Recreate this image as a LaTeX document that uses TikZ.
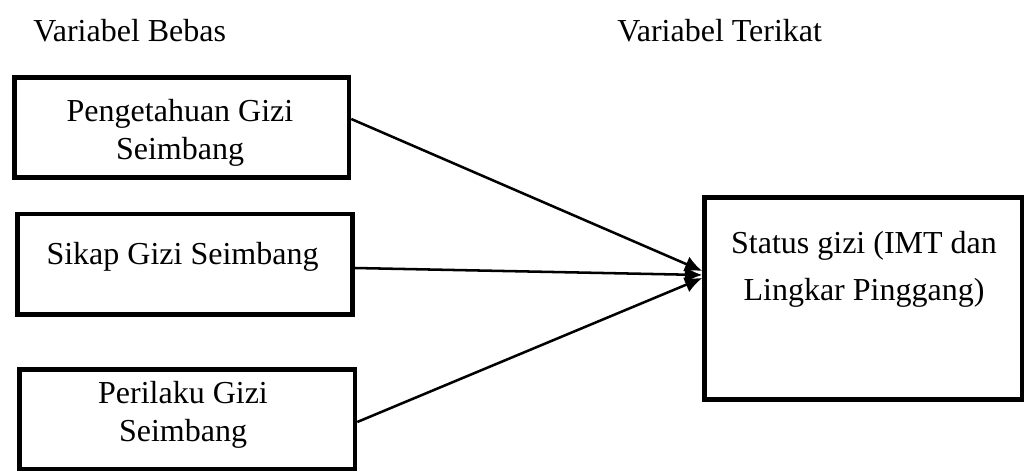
\documentclass[tikz,border=0pt]{standalone}
\usepackage{fontspec}
\setmainfont{Liberation Serif}
\usetikzlibrary{arrows.meta,calc}
\newdimen\pxu
\pxu=0.75pt
\begin{document}
\begin{tikzpicture}[x=0.75pt,y=-0.75pt,
  box/.style={draw,line width=3.4pt,inner sep=0pt,rectangle},
  lbl/.style={inner sep=0pt,font=\fontsize{24}{28.5}\selectfont,align=center},
  conn/.style={line width=1.9pt,-{Latex[length=13pt,width=12pt]}}]
\useasboundingbox (0,0) rectangle (1025,471);
% headers
\node[lbl,anchor=base west] (h1) at (33,41) {Variabel Bebas};
\node[lbl,anchor=base west] (h2) at (617,41) {Variabel Terikat};
% boxes
\node[box,minimum width=334.5\pxu,minimum height=100\pxu] (b1) at (181.75,127.5) {};
\node[box,minimum width=335\pxu,minimum height=100.5\pxu] (b2) at (185,264.25) {};
\node[box,minimum width=335.5\pxu,minimum height=99.5\pxu] (b3) at (187.25,419.25) {};
\node[box,minimum width=317.5\pxu,minimum height=202\pxu] (b4) at (863.25,298.5) {};
% texts
\node[lbl] (t1) at (180,133) {Pengetahuan Gizi\\Seimbang};
\node[lbl,anchor=base] (t2) at (182.5,264) {Sikap Gizi Seimbang};
\node[lbl] (t3) at (183,415) {Perilaku Gizi\\Seimbang};
\node[lbl,font=\fontsize{24}{35.25}\selectfont] (t4) at (864,269) {Status gizi (IMT dan\\Lingkar Pinggang)};
% connectors
\draw[conn] ($(b1.east)+(0,-8.5)$) -- ($(b4.west)+(0,-27.5)$);
\draw[conn] ($(b2.east)+(0,3.75)$) -- ($(b4.west)+(0,-23.5)$);
\draw[conn] ($(b3.east)+(0,2.75)$) -- ($(b4.west)+(0,-20.5)$);
\end{tikzpicture}
\end{document}
